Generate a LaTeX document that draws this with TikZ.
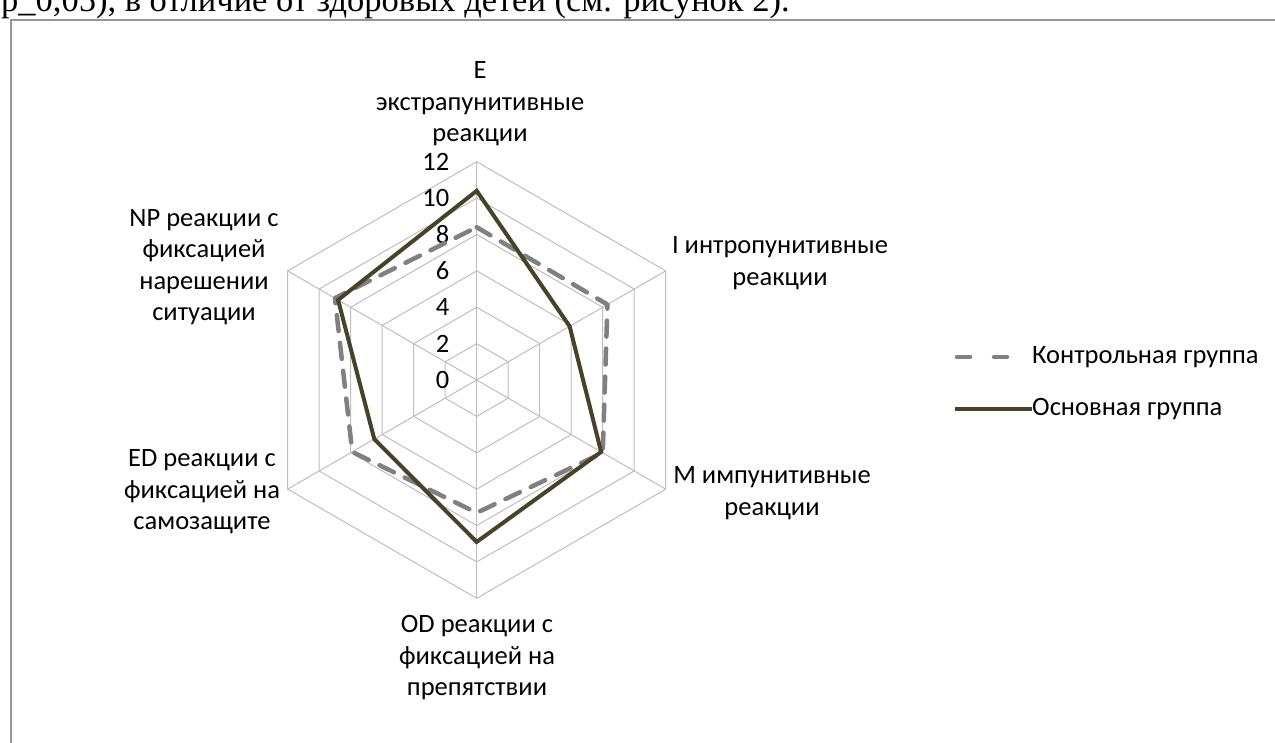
\documentclass[tikz,border=0pt]{standalone}
\usepackage{fontspec}
\setmainfont{Carlito}
\newfontfamily\bodyfont{Liberation Serif}

\definecolor{gridgray}{RGB}{190,190,190}
\definecolor{ctrlgray}{RGB}{128,128,128}
\definecolor{maindark}{RGB}{72,66,40}
\definecolor{framegray}{RGB}{150,150,150}

\tikzset{
  axislabel/.style={font=\fontsize{26.5}{31.5}\selectfont, align=center, inner sep=0pt},
  ticklabel/.style={font=\fontsize{26.5}{30}\selectfont, anchor=east, inner sep=0pt},
  legendtext/.style={font=\fontsize{26.5}{30}\selectfont, anchor=west, inner sep=0pt},
  ctrlline/.style={ctrlgray, line width=4.5pt, dash pattern=on 16pt off 12pt, line cap=round, line join=round},
  mainline/.style={maindark, line width=4pt, line join=miter},
}

\begin{document}
\begin{tikzpicture}[x=1pt, y=-1pt]
  \useasboundingbox (0,0) rectangle (1275,742);
  \clip (0,0) rectangle (1275,742);

  % text line above the chart, cut by the page edge
  \node[font=\bodyfont\fontsize{34.5}{38}\selectfont, anchor=base west, inner sep=0pt] (above) at (1,11)
    {р\_0,05), в отличие от здоровых детей (см. рисунок 2).};
  \draw[framegray, line width=2pt] (11,760) -- (11,20) -- (1290,20);

  % radar
  \begin{scope}[shift={(476.7,380)}, x=18.19pt, y=18.19pt]
    \foreach \r in {2,4,...,12}
      \draw[gridgray, line width=1pt] (90:\r) -- (30:\r) -- (-30:\r) -- (-90:\r) -- (-150:\r) -- (150:\r) -- cycle;
    \foreach \a in {90,30,-30,-90,-150,150}
      \draw[gridgray, line width=1pt] (0,0) -- (\a:12);
    \foreach \v in {0,2,...,12}
      \node[ticklabel] (t\v) at (-1.5,\v) {\v};

    \coordinate (cE) at (90:8.4);   \coordinate (mE) at (90:10.4);
    \coordinate (cI) at (30:8.3);   \coordinate (mI) at (30:5.9);
    \coordinate (cM) at (-30:8.0);  \coordinate (mM) at (-30:7.9);
    \coordinate (cOD) at (-90:7.3); \coordinate (mOD) at (-90:8.9);
    \coordinate (cED) at (-150:7.9);\coordinate (mED) at (-150:6.5);
    \coordinate (cNP) at (150:9.0); \coordinate (mNP) at (150:8.8);

    \draw[ctrlline] (cE) -- (cI) -- (cM) -- (cOD) -- (cED) -- (cNP) -- cycle;
    \draw[mainline] (mE) -- (mI) -- (mM) -- (mOD) -- (mED) -- (mNP) -- cycle;
  \end{scope}

  % axis names
  \node[axislabel] (E) at (480,104) {E\\экстрапунитивные\\реакции};
  \node[axislabel] (I) at (780,263) {I интропунитивные\\реакции};
  \node[axislabel] (M) at (772,493) {М импунитивные\\реакции};
  \node[axislabel] (OD) at (477,658) {OD реакции с\\фиксацией на\\препятствии};
  \node[axislabel] (ED) at (202,492) {ED реакции с\\фиксацией на\\самозащите};
  \node[axislabel] (NP) at (204,267) {NP реакции с\\фиксацией\\нарешении\\ситуации};

  % legend
  \node[legendtext] (ctrl) at (1032,357) {Контрольная группа};
  \node[legendtext] (main) at (1032,409) {Основная группа};
  \coordinate (ctrlA) at (957,357);
  \coordinate (ctrlB) at (1008,357);
  \coordinate (mainA) at (955,409);
  \draw[ctrlline, dash pattern=on 13pt off 24pt] (ctrlA) -- (ctrlB);
  \draw[mainline] (mainA) -- (main.west);
\end{tikzpicture}
\end{document}
